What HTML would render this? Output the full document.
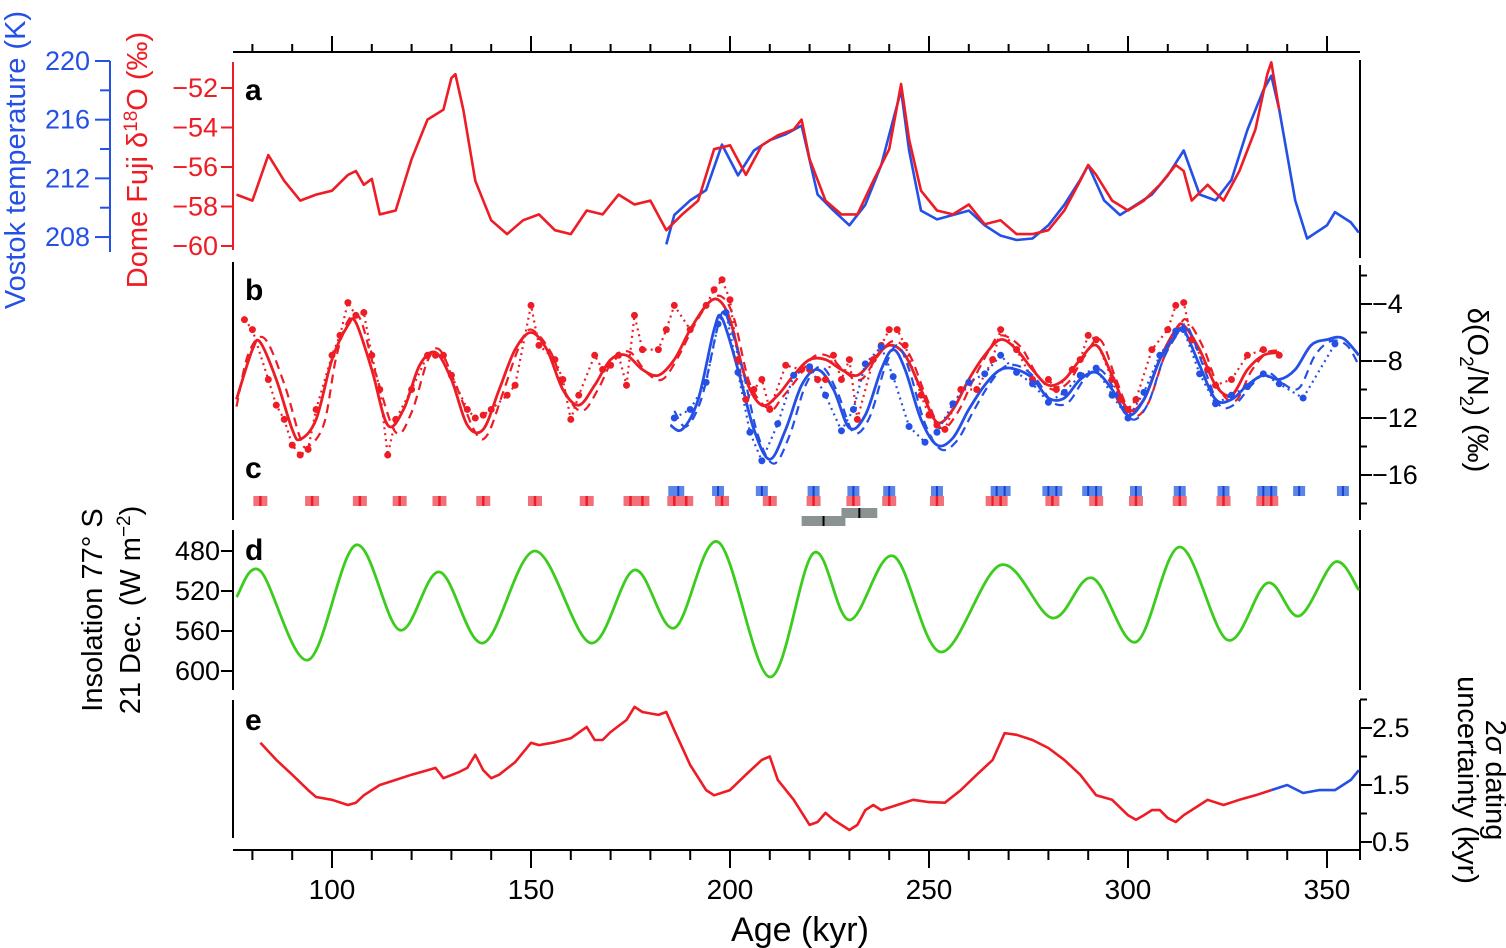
<!DOCTYPE html>
<html><head><meta charset="utf-8"><style>
body{margin:0;background:#fff;}
svg{display:block;font-family:"Liberation Sans",sans-serif;}
</style></head><body>
<svg id="c" width="1506" height="948" viewBox="0 0 1506 948"></svg>
<script>
// ---- data ----
const aAges=[76,80,84,88,92,96,100,104,106,108,110,112,116,120,124,128,130,131,133,136,140,144,148,152,156,160,164,168,172,176,180,184,188,192,196,200,204,208,212,216,218,220,224,228,232,236,240,243,245,248,252,256,260,264,268,272,276,280,284,288,290,292,296,300,304,308,312,314,316,320,324,328,332,335,336,338];
const aDomeFuji=[-57.4,-57.7,-55.4,-56.7,-57.7,-57.4,-57.2,-56.4,-56.2,-56.9,-56.6,-58.4,-58.2,-55.6,-53.6,-53.1,-51.5,-51.3,-53.1,-56.7,-58.7,-59.4,-58.7,-58.4,-59.2,-59.4,-58.2,-58.4,-57.4,-57.9,-57.7,-59.2,-58.4,-57.7,-55.1,-54.9,-56.4,-54.9,-54.4,-54.1,-53.6,-55.6,-57.7,-58.4,-58.4,-56.7,-55.1,-51.8,-54.6,-57.2,-58.2,-58.4,-57.9,-58.9,-58.7,-59.4,-59.4,-59.2,-58.2,-56.7,-55.9,-56.4,-57.7,-58.2,-57.7,-56.9,-55.9,-56.2,-57.7,-56.9,-57.7,-56.2,-54.1,-51.3,-50.7,-53.1];
const vAges=[184,186,190,194,198,202,206,210,214,218,222,226,230,234,238,241,243,245,248,252,256,260,264,268,272,276,280,284,288,290,294,298,302,306,310,314,318,322,326,330,334,336,338,342,345,350,352,356,358];
const vVostok=[207.5,209.5,210.5,211.2,214.3,212.2,213.9,214.6,215.0,215.6,210.9,209.8,208.8,210.2,212.9,216.0,218.0,213.9,209.8,209.2,209.5,209.8,208.8,208.1,207.8,207.9,208.8,210.2,211.9,212.9,210.5,209.5,210.2,210.9,212.2,213.9,210.9,210.5,211.9,215.3,218.0,219.0,216.7,210.5,207.9,208.8,209.7,209.0,208.3];
const bRedAges=[76,80,82,86,90,92,96,100,104,106,110,114,118,122,126,130,134,138,142,146,150,154,158,162,166,170,174,178,182,186,190,194,197,200,204,208,212,216,220,224,228,232,236,240,244,248,252,256,260,264,268,272,276,280,284,288,292,296,300,304,308,312,314,318,322,326,330,334,338];
const bRed=[-10.7,-7.2,-6.7,-9.3,-12.8,-13.5,-12.1,-7.9,-5.5,-5.3,-8.6,-12.5,-11.4,-8.3,-7.4,-9.3,-12.5,-12.8,-10.0,-7.2,-6.0,-7.2,-10.0,-11.1,-9.7,-7.9,-7.6,-8.6,-9.0,-7.9,-5.8,-4.1,-3.7,-5.1,-9.3,-11.1,-10.4,-9.0,-7.9,-7.9,-8.6,-9.0,-7.9,-6.9,-7.6,-10.0,-12.3,-11.4,-9.3,-7.6,-6.5,-7.2,-8.6,-9.7,-9.3,-7.9,-6.9,-9.0,-11.4,-10.7,-7.9,-5.8,-5.5,-7.2,-9.7,-10.4,-8.6,-7.6,-7.4];
const bRedDashAges=[76,79,83,88,92,94,98,101,104,107,111,116,120,124,127,131,136,139,143,147,150,155,159,163,167,171,175,179,183,187,191,195,198,201,205,210,213,217,221,225,229,233,237,241,245,249,253,257,261,265,268,273,277,281,285,289,293,297,301,305,309,313,315,319,323,327,331,335,339];
const bRedDash=[-11.2,-7.5,-6.4,-9.6,-13.4,-14.0,-12.4,-7.8,-5.2,-5.0,-8.9,-13.0,-11.6,-8.0,-7.2,-9.6,-13.0,-13.2,-10.2,-7.0,-5.8,-7.4,-10.4,-11.5,-9.9,-7.7,-7.4,-8.8,-9.3,-7.7,-5.5,-3.8,-3.5,-5.0,-9.6,-11.4,-10.6,-9.2,-7.7,-7.7,-8.8,-9.3,-7.7,-6.6,-7.5,-10.3,-12.7,-11.7,-9.4,-7.3,-6.2,-7.0,-8.9,-10.0,-9.5,-7.7,-6.5,-9.3,-11.8,-11.0,-7.8,-5.5,-5.2,-7.1,-10.0,-10.8,-8.7,-7.4,-7.3];
const bRedDotAges=[78,80,84,86,88,90,92,94,96,100,102,104,106,108,110,112,114,116,120,124,126,128,130,134,136,138,140,144,146,150,152,156,158,160,162,166,168,170,172,174,176,178,182,184,186,190,194,196,198,200,202,204,206,208,210,214,218,220,222,224,226,228,230,232,236,238,240,242,244,248,250,252,254,258,262,266,268,272,276,280,282,286,288,290,292,296,298,300,302,306,310,312,314,316,320,322,326,330,334,338];
const bRedDots=[-5.1,-5.8,-9.3,-11.1,-12.1,-13.9,-14.6,-14.2,-11.4,-7.6,-6.2,-3.9,-4.8,-4.6,-7.6,-10.0,-14.6,-12.1,-10.0,-7.6,-7.6,-7.6,-9.0,-11.4,-12.0,-11.8,-11.4,-10.4,-9.7,-4.1,-6.9,-7.9,-9.3,-12.1,-10.4,-7.6,-8.6,-8.3,-7.6,-9.7,-4.8,-7.2,-7.2,-5.8,-4.1,-5.8,-4.1,-3.0,-2.3,-3.7,-7.9,-10.7,-10.0,-9.3,-11.4,-8.3,-8.6,-8.6,-9.3,-9.3,-7.6,-9.3,-7.9,-12.1,-7.9,-6.9,-5.8,-5.8,-6.9,-10.4,-11.8,-12.5,-12.8,-10.0,-10.0,-7.9,-5.8,-7.2,-9.3,-9.3,-10.0,-8.6,-7.9,-6.2,-6.5,-9.3,-10.7,-11.4,-10.7,-7.2,-5.8,-4.1,-3.9,-6.5,-8.6,-9.7,-9.3,-7.6,-7.2,-7.6];
const bBlueAges=[185,188,192,196,198,202,206,210,214,218,222,226,230,234,238,241,244,248,252,256,260,264,268,272,276,280,284,288,292,296,300,304,308,312,314,318,322,326,330,334,338,342,346,350,354,358];
const bBlue=[-12.5,-12.8,-10.7,-5.8,-5.0,-8.6,-12.8,-14.9,-12.8,-9.7,-8.6,-10.0,-12.7,-11.8,-8.6,-7.2,-8.6,-12.1,-13.9,-13.4,-11.4,-9.7,-8.6,-8.6,-9.2,-10.6,-10.6,-9.3,-8.8,-10.0,-11.8,-10.7,-7.9,-6.2,-5.8,-8.3,-10.7,-10.7,-9.7,-9.0,-9.3,-8.6,-6.9,-6.5,-6.4,-7.6];
const bBlueDashAges=[186,189,193,197,199,203,207,211,215,219,223,227,231,235,239,242,245,249,253,257,261,265,269,273,277,281,285,289,293,297,301,305,309,313,315,319,323,327,331,335,339,343,347,351,355,358];
const bBlueDash=[-11.5,-12.6,-10.5,-5.5,-4.8,-8.4,-13.2,-15.2,-13.2,-9.7,-8.4,-10.2,-13.0,-12.0,-8.4,-6.9,-8.6,-12.4,-14.2,-13.6,-11.6,-9.7,-8.4,-8.4,-9.3,-10.9,-10.9,-9.3,-8.6,-10.2,-12.1,-11.0,-7.8,-5.9,-5.6,-8.4,-11.1,-11.0,-9.7,-8.8,-9.6,-9.9,-7.6,-6.6,-6.9,-8.3];
const bBlueDotAges=[186,190,194,197,199,202,205,208,212,216,220,224,228,231,234,238,241,245,249,252,256,260,264,268,272,276,280,284,288,292,296,300,304,308,312,314,318,322,326,330,334,338,344,352];
const bBlueDots=[-12.0,-11.4,-9.5,-5.4,-4.6,-8.8,-13.0,-15.0,-12.4,-9.0,-8.4,-10.4,-12.9,-11.4,-8.2,-7.0,-9.1,-12.6,-13.7,-13.0,-11.0,-9.5,-8.9,-7.6,-8.8,-9.6,-10.9,-10.2,-9.0,-8.5,-10.4,-12.0,-10.2,-7.6,-5.9,-5.8,-8.9,-11.0,-10.4,-9.8,-8.9,-9.6,-10.6,-6.8];
const cRedAges=[82,95,107,117,127,138,151,164,175,178,186,189,198,210,221,231,240,252,266,268,281,292,302,313,324,334,336];
const cBlueAges=[186,187,197,208,221,231,240,252,267,269,280,282,290,292,302,313,324,334,336,343,354];
const cGrayStart=[218,228];
const cGrayEnd=[229,237];
const dAges=[76,82,94,106,117,127,138,151,165,176,186,197,210,221,230,241,253,268,281,291,302,313,325,335,343,352,358];
const dInsol=[526,500,589,474,559,501,572,480,572,499,557,471,606,482,549,485,581,494,547,507,571,476,569,512,545,491,519];
const eAges=[82,86,90,94,96,100,104,106,108,112,116,120,124,126,128,132,134,136,138,140,142,146,150,152,156,160,164,166,168,170,174,176,178,182,184,186,190,194,196,200,204,208,210,212,216,220,222,224,226,228,230,232,234,236,238,242,246,250,254,258,262,266,269,272,276,280,284,288,292,296,300,302,304,306,308,310,312,314,318,320,324,328,332,336];
const eUnc=[2.24,1.94,1.68,1.41,1.29,1.24,1.15,1.19,1.32,1.5,1.59,1.68,1.76,1.8,1.62,1.73,1.8,2.03,1.76,1.62,1.68,1.9,2.24,2.2,2.25,2.32,2.52,2.29,2.29,2.43,2.64,2.87,2.78,2.73,2.78,2.46,1.85,1.41,1.32,1.41,1.68,1.94,2.0,1.59,1.24,0.8,0.85,1.01,0.89,0.8,0.71,0.8,1.06,1.15,1.06,1.15,1.24,1.2,1.19,1.41,1.68,1.94,2.41,2.38,2.29,2.15,1.94,1.68,1.32,1.24,0.97,0.89,0.97,1.06,1.06,0.92,0.85,0.97,1.15,1.24,1.15,1.24,1.32,1.41];
const eBlueAges=[336,340,344,348,352,356,358];
const eBlueUnc=[1.41,1.5,1.36,1.41,1.41,1.59,1.76];
const xTicks=[100,150,200,250,300,350];

// ---- scales ----
const X=a=>332+(a-100)*3.98;
const Ya=v=>88-(v+52)*19.75;
const Yv=t=>61-(t-220)*14.67;
const Yb=v=>304-(v+4)*14.25;
const Yd=v=>551+(v-480);
const Ye=v=>728+(2.5-v)*57;
const RED='#ee1c25',BLUE='#2450e6',GREEN='#3ccc1e',GRAY='#8a9392';
const svg=document.getElementById('c');
const NS='http://www.w3.org/2000/svg';
function el(tag,attrs,parent){const e=document.createElementNS(NS,tag);for(const k in attrs)e.setAttribute(k,attrs[k]);(parent||svg).appendChild(e);return e;}
function txt(s,x,y,opt,name){const t=el('text',Object.assign({x:x,y:y,'font-size':27},opt||{}));t.textContent=s;


return t;}
function poly(ages,vals,ys,color,name,extra){const pts=ages.map((a,i)=>X(a).toFixed(1)+','+ys(vals[i]).toFixed(1)).join(' ');
const p=el('polyline',Object.assign({points:pts,fill:'none',stroke:color,'stroke-width':2.6,'stroke-linejoin':'round'},extra||{}));


return p;}
function smooth(ages,vals,ys,color,name,extra){const P=ages.map((a,i)=>[X(a),ys(vals[i])]);let d='M'+P[0][0]+','+P[0][1];
for(let i=0;i<P.length-1;i++){const p0=P[Math.max(0,i-1)],p1=P[i],p2=P[i+1],p3=P[Math.min(P.length-1,i+2)];
d+=' C'+(p1[0]+(p2[0]-p0[0])/6).toFixed(1)+','+(p1[1]+(p2[1]-p0[1])/6).toFixed(1)+' '+(p2[0]-(p3[0]-p1[0])/6).toFixed(1)+','+(p2[1]-(p3[1]-p1[1])/6).toFixed(1)+' '+p2[0].toFixed(1)+','+p2[1].toFixed(1);}
const p=el('path',Object.assign({d:d,fill:'none',stroke:color,'stroke-width':2.8},extra||{}));


return p;}
function line(x1,y1,x2,y2,c,w,name){const l=el('line',{x1:x1,y1:y1,x2:x2,y2:y2,stroke:c,'stroke-width':w||2});


return l;}

// ---- frame axes ----
const X0=233,X1=1360;
line(X0,52,X1,52,'#000',2,'top-axis');
for(let a=80;a<=350;a+=10){line(X(a),52,X(a),a%50===0?36:44,'#000',2,'top-tick');}
line(X0,850,X1,850,'#000',2,'x-axis');
for(let a=80;a<=350;a+=10){line(X(a),850,X(a),a%50===0?868:860,'#000',2,'x-tick');}
xTicks.forEach(a=>txt(String(a),X(a),899,{'text-anchor':'middle','font-size':28},'x-tick-label'));
txt('Age (kyr)',800,941,{'text-anchor':'middle','font-size':34},'x-axis-title');

// panel a axes
line(X0,62,X0,250,RED,2,'dome-fuji-axis');
for(let v=-52;v>=-60;v-=2){line(X0,Ya(v),X0-12,Ya(v),RED,2,'dome-fuji-tick');txt('\u2212'+(-v),218,Ya(v)+9,{'text-anchor':'end',fill:RED},'dome-fuji-tick-label');}
line(110,61,110,252,BLUE,2,'vostok-axis');
for(let t=208;t<=220;t+=2){line(110,Yv(t),t%4===0?95:100,Yv(t),BLUE,2,'vostok-tick');}
for(let t=208;t<=220;t+=4){txt(String(t),90,Yv(t)+9,{'text-anchor':'end',fill:BLUE},'vostok-tick-label');}
line(X1,60,X1,258,'#000',2,'panel-a-right-border');
txt('Vostok temperature (K)',0,0,{transform:'translate(25,160) rotate(-90)','text-anchor':'middle',fill:BLUE,'font-size':29},'vostok-axis-title');
const df=txt('',0,0,{transform:'translate(147,160) rotate(-90)','text-anchor':'middle',fill:RED,'font-size':29},'dome-fuji-axis-title');
df.innerHTML='Dome Fuji δ<tspan dy="-10" font-size="19">18</tspan><tspan dy="10">O (‰)</tspan>';

// panel b/c axes
line(X0,262,X0,520,'#000',2,'panel-b-left-border');
line(X1,265,X1,520,'#000',2,'o2n2-axis');
for(let v=-4;v>=-16;v-=4){line(X1,Yb(v),X1+12,Yb(v),'#000',2,'o2n2-tick');txt('\u2212'+(-v),1372,Yb(v)+9,{},'o2n2-tick-label');}
for(let v=-2;v>=-18;v-=4){line(X1,Yb(v),X1+7,Yb(v),'#000',2,'o2n2-minor-tick');}
const ot=txt('',0,0,{transform:'translate(1468,390) rotate(90)','text-anchor':'middle','font-size':29},'o2n2-axis-title');
ot.innerHTML='δ(O<tspan dy="8" font-size="19">2</tspan><tspan dy="-8">/N</tspan><tspan dy="8" font-size="19">2</tspan><tspan dy="-8">) (‰)</tspan>';

// panel d axes
line(X0,530,X0,690,'#000',2,'insolation-axis');
for(let v=480;v<=600;v+=40){line(X0,Yd(v),X0-12,Yd(v),'#000',2,'insolation-tick');txt(String(v),220,Yd(v)+9,{'text-anchor':'end'},'insolation-tick-label');}
line(X1,530,X1,690,'#000',2,'panel-d-right-border');
txt('Insolation 77° S',0,0,{transform:'translate(102,610) rotate(-90)','text-anchor':'middle','font-size':29},'insolation-axis-title');
const it=txt('',0,0,{transform:'translate(140,610) rotate(-90)','text-anchor':'middle','font-size':29},'insolation-axis-title-2');
it.innerHTML='21 Dec. (W m<tspan dy="-10" font-size="19">−2</tspan><tspan dy="10">)</tspan>';

// panel e axes
line(X0,700,X0,838,'#000',2,'panel-e-left-border');
line(X1,700,X1,860,'#000',2,'uncertainty-axis');
[2.5,1.5,0.5].forEach(v=>{line(X1,Ye(v),X1+12,Ye(v),'#000',2,'uncertainty-tick');txt(v.toFixed(1),1372,Ye(v)+9,{},'uncertainty-tick-label');});
[3,2,1].forEach(v=>line(X1,Ye(v),X1+7,Ye(v),'#000',2,'uncertainty-minor-tick'));
const ut=txt('',0,0,{transform:'translate(1486,780) rotate(90)','text-anchor':'middle','font-size':29},'uncertainty-axis-title');
ut.innerHTML='2<tspan font-style="italic">σ</tspan> dating';
txt('uncertainty (kyr)',0,0,{transform:'translate(1458,780) rotate(90)','text-anchor':'middle','font-size':29},'uncertainty-axis-title-2');

// panel letters
[['a',100],['b',300],['c',478],['d',560],['e',730]].forEach(p=>txt(p[0],245,p[1],{'font-weight':'bold','font-size':30},'panel-label-'+p[0]));

// ---- series ----
poly(vAges,vVostok,Yv,BLUE,'vostok-temperature-line');
poly(aAges,aDomeFuji,Ya,RED,'dome-fuji-d18o-line');

smooth(bRedDashAges,bRedDash,Yb,RED,'dome-fuji-o2n2-dashed',{'stroke-dasharray':'9,6','stroke-width':2.2});
poly(bRedDotAges,bRedDots,Yb,RED,'dome-fuji-o2n2-dotted',{'stroke-dasharray':'2,4','stroke-width':2.2});
smooth(bRedAges,bRed,Yb,RED,'dome-fuji-o2n2-smooth');
smooth(bBlueDashAges,bBlueDash,Yb,BLUE,'vostok-o2n2-dashed',{'stroke-dasharray':'9,6','stroke-width':2.2});
poly(bBlueDotAges,bBlueDots,Yb,BLUE,'vostok-o2n2-dotted',{'stroke-dasharray':'2,4','stroke-width':2.2});
smooth(bBlueAges,bBlue,Yb,BLUE,'vostok-o2n2-smooth');
bRedDotAges.forEach((a,i)=>{const c=el('circle',{cx:X(a),cy:Yb(bRedDots[i]),r:3.5,fill:RED});

});
bBlueDotAges.forEach((a,i)=>{const c=el('circle',{cx:X(a),cy:Yb(bBlueDots[i]),r:3.5,fill:BLUE});

});

// panel c markers
cBlueAges.forEach(a=>{const r=el('rect',{x:X(a)-6,y:486,width:12,height:10,fill:'#5a86e8'});


line(X(a),486,X(a),496,'#1a3fd0',2,'vostok-tiepoint-center');});
cRedAges.forEach(a=>{const r=el('rect',{x:X(a)-7,y:496,width:14,height:10,fill:'#f2707a'});


line(X(a),496,X(a),506,RED,2.5,'dome-fuji-tiepoint-center');});
cGrayStart.forEach((s,i)=>{const r=el('rect',{x:X(s),y:i?508:516,width:X(cGrayEnd[i])-X(s),height:10,fill:GRAY});


const m=(s+cGrayEnd[i])/2;line(X(m),i?508:516,X(m),i?518:526,'#000',2,'gray-tiepoint-center');});

// panel d
smooth(dAges,dInsol,Yd,GREEN,'insolation-line');
// panel e
poly(eAges,eUnc,Ye,RED,'dome-fuji-uncertainty-line');
poly(eBlueAges,eBlueUnc,Ye,BLUE,'vostok-uncertainty-line');
</script>
</body></html>
